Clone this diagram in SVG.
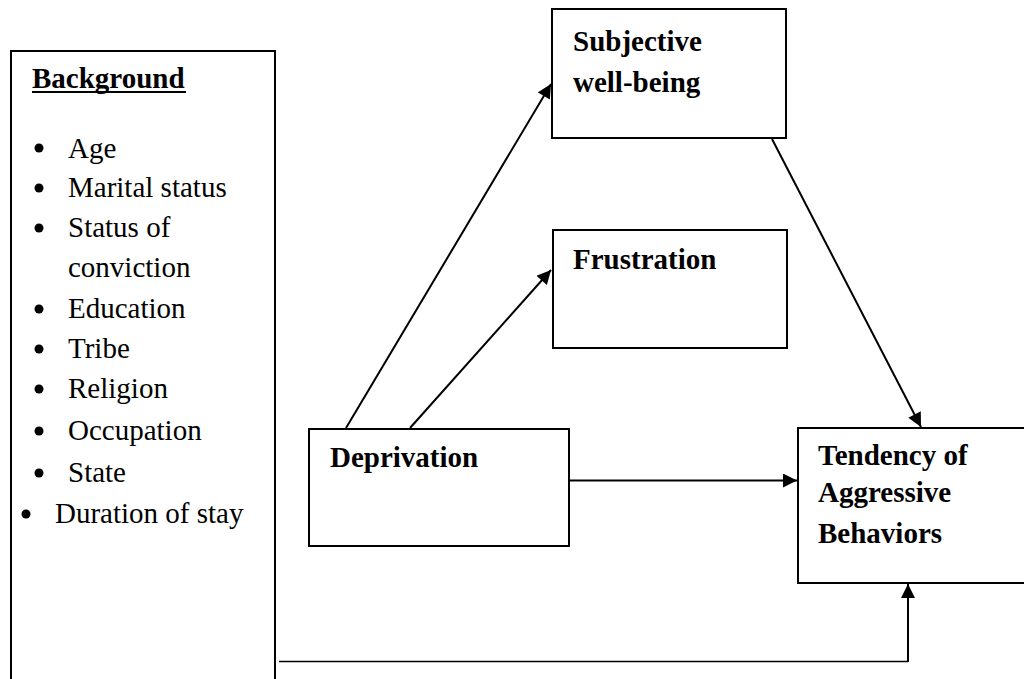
<svg xmlns="http://www.w3.org/2000/svg" width="1024" height="679" viewBox="0 0 1024 679">
<style>
.box{fill:#fff;stroke:#000;stroke-width:2}
.t{font-family:"Liberation Serif","Times New Roman",serif;font-size:29px;fill:#000}
.b{font-weight:bold}
.conn{stroke:#000;stroke-width:2;fill:none}
</style>
<defs>
<marker id="ahb" viewBox="0 0 10 10" refX="10" refY="5" markerWidth="16" markerHeight="14" markerUnits="userSpaceOnUse" orient="auto">
<path d="M0,0 L10,5 L0,10 z" fill="#000"/>
</marker>
</defs>
<rect width="1024" height="679" fill="#fff"/>
<g id="background">
<rect class="box" x="11" y="51" width="264" height="640"/>
<text class="t b" x="32" y="88">Background</text>
<line x1="32" y1="92" x2="186" y2="92" stroke="#000" stroke-width="2"/>
<g class="t">
<circle cx="39" cy="148" r="4.5"/><text x="68" y="158">Age</text>
<circle cx="39" cy="188" r="4.5"/><text x="68" y="197">Marital status</text>
<circle cx="39" cy="228" r="4.5"/><text x="68" y="237">Status of</text>
<text x="68" y="277">conviction</text>
<circle cx="39" cy="309" r="4.5"/><text x="68" y="318">Education</text>
<circle cx="39" cy="349" r="4.5"/><text x="68" y="358">Tribe</text>
<circle cx="39" cy="389" r="4.5"/><text x="68" y="398">Religion</text>
<circle cx="39" cy="431" r="4.5"/><text x="68" y="440">Occupation</text>
<circle cx="39" cy="473" r="4.5"/><text x="68" y="482">State</text>
<circle cx="26" cy="514" r="4.5"/><text x="55" y="523">Duration of stay</text>
</g>
</g>
<g id="subjective">
<rect class="box" x="552" y="9" width="234" height="129"/>
<text class="t b" x="573" y="51">Subjective</text>
<text class="t b" x="573" y="92">well-being</text>
</g>
<g id="frustration">
<rect class="box" x="553" y="230" width="234" height="118"/>
<text class="t b" x="573" y="269">Frustration</text>
</g>
<g id="deprivation">
<rect class="box" x="309" y="429" width="260" height="117"/>
<text class="t b" x="330" y="467">Deprivation</text>
</g>
<g id="tendency">
<rect class="box" x="798" y="428" width="240" height="155"/>
<text class="t b" x="818" y="465">Tendency of</text>
<text class="t b" x="818" y="502">Aggressive</text>
<text class="t b" x="818" y="543">Behaviors</text>
</g>
<g id="connectors">
<line class="conn" x1="346" y1="428" x2="551" y2="84" marker-end="url(#ahb)"/>
<line class="conn" x1="410" y1="428" x2="551" y2="270" marker-end="url(#ahb)"/>
<line class="conn" x1="569" y1="480.5" x2="797" y2="480.5" marker-end="url(#ahb)"/>
<line class="conn" x1="772" y1="139" x2="921" y2="427" marker-end="url(#ahb)"/>
<line x1="279" y1="661.5" x2="908" y2="661.5" stroke="#000" stroke-width="1.5"/>
<line class="conn" x1="908" y1="662" x2="908" y2="584" marker-end="url(#ahb)"/>
</g>
</svg>
